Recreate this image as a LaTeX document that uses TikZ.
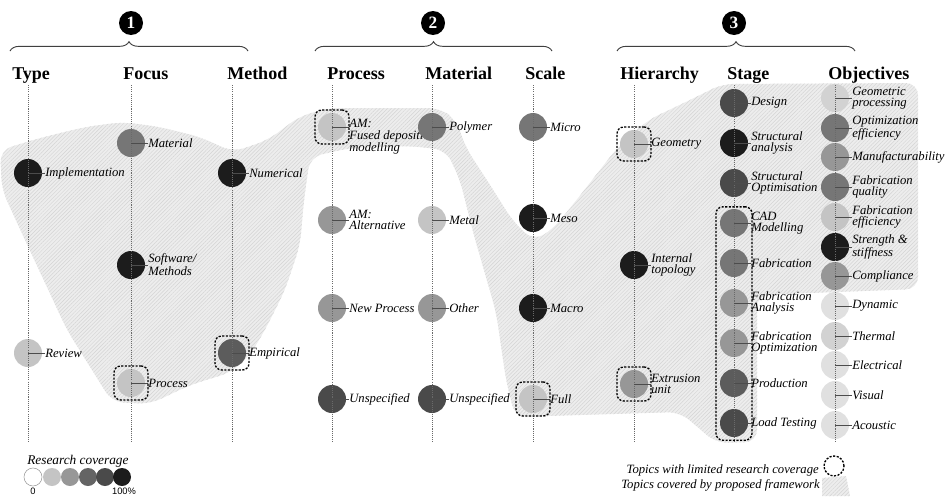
\documentclass[tikz,border=0pt]{standalone}
\usepackage{fontspec}
\setmainfont{Liberation Serif}
\newfontfamily\legsans{Liberation Sans}
\usetikzlibrary{decorations.pathreplacing,patterns.meta}
\definecolor{Lz}{HTML}{E0E0E0}
\definecolor{Lq}{HTML}{D2D2D2}
\definecolor{Lone}{HTML}{C4C4C4}
\definecolor{Ltwo}{HTML}{979797}
\definecolor{Lthree}{HTML}{767676}
\definecolor{Le}{HTML}{5C5C5C}
\definecolor{Lfour}{HTML}{4A4A4A}
\definecolor{Lfive}{HTML}{1C1C1C}
\definecolor{regfill}{HTML}{EDEDED}
\definecolor{reghatch}{HTML}{D4D4D4}
\definecolor{lineg}{HTML}{6A6A6A}
\newcommand\labfont{\fontsize{9.5}{8.4}\selectfont\itshape}
\newcommand\tp[5]{\node[topic,fill=#4] (#1) at (#2,#3) {};\node[lab] (#1-l) at ([xshift=12.75pt]#1.center) {#5};}
\tikzset{
  topic/.style={circle, minimum size=21pt, inner sep=0pt, draw=none},
  lab/.style={anchor=west, font=\labfont, align=left, inner sep=0pt, text=black},
  head/.style={anchor=base west, font=\fontsize{13.5}{16}\selectfont\bfseries, inner sep=0pt},
  limbox/.style={draw=black, rounded corners=5pt, dash pattern=on 1.6pt off 1.1pt, line width=1pt, minimum size=25.5pt, inner sep=0pt},
  colline/.style={draw=lineg, line width=0.5pt, dash pattern=on 0.8pt off 0.8pt},
  tickline/.style={draw=black!70, line width=0.5pt},
  region/.style={fill=regfill, postaction={pattern={Lines[angle=45,distance=2pt,line width=0.35pt]}, pattern color=reghatch}},
  numcirc/.style={circle, fill=black, text=white, minimum size=18pt, inner sep=0pt, font=\fontsize{13}{13}\selectfont\bfseries},
  bracedraw/.style={draw=black!75, line width=0.7pt, decorate, decoration={brace, amplitude=7pt}},
  legc/.style={circle, minimum size=13.5pt, inner sep=0pt}
}
\begin{document}
\begin{tikzpicture}[x=0.75pt,y=-0.75pt]
\useasboundingbox (0,0) rectangle (948,496);
% covered region
\path[region, rounded corners=9pt]
 (0,150) -- (40,138) -- (85,127) -- (123,122) -- (160,127) -- (200,137) -- (233,152)
 -- (268,140) -- (300,116) -- (330,108) -- (440,108) -- (456,120) -- (466,148)
 -- (492,188) -- (512,220) -- (533,241) -- (552,230) -- (575,202) -- (617,148)
 -- (648,120) -- (690,100) -- (722,84) -- (918,83) -- (918,289) -- (757,295)
 -- (757,442) -- (716,443) -- (680,412) -- (515,417) -- (506,380) -- (496,312)
 -- (473,232) -- (460,180) -- (446,150) -- (410,146) -- (350,148) -- (310,157)
 -- (304,200) -- (300,245) -- (285,290) -- (265,330) -- (250,355) -- (232,372)
 -- (190,385) -- (150,404) -- (112,402) -- (67,330) -- (25,240) -- (2,190) -- cycle;
% numbers and braces
\node[numcirc] (n1) at (131,23) {1};
\node[numcirc] (n2) at (433,23) {2};
\node[numcirc] (n3) at (734,23) {3};
\coordinate (b1a) at (10,51); \coordinate (b1b) at (248,51);
\coordinate (b2a) at (315,51); \coordinate (b2b) at (552,51);
\coordinate (b3a) at (617,51); \coordinate (b3b) at (855,51);
\draw[bracedraw] (b1a) -- (b1b);
\draw[bracedraw] (b2a) -- (b2b);
\draw[bracedraw] (b3a) -- (b3b);
% headers
\node[head] (hType) at (12,79) {Type};
\node[head] (hFocus) at (123,79) {Focus};
\node[head] (hMethod) at (227,79) {Method};
\node[head] (hProcess) at (327,79) {Process};
\node[head] (hMaterial) at (425,79) {Material};
\node[head] (hScale) at (525,79) {Scale};
\node[head] (hHier) at (620,79) {Hierarchy};
\node[head] (hStage) at (727,79) {Stage};
\node[head] (hObj) at (828,79) {Objectives};
% topics
\tp{impl}{28}{173}{Lfive}{Implementation}
\tp{review}{28}{353}{Lone}{Review}
\tp{mat}{131}{143}{Lthree}{Material}
\tp{soft}{131}{265}{Lfive}{Software/\\Methods}
\tp{proc}{131}{383}{Lone}{Process}
\tp{num}{232}{173}{Lfive}{Numerical}
\tp{emp}{232}{353}{Le}{Empirical}
\node[topic,fill=Lone] (fdm) at (332,127) {};
\node[lab] (fdm-l) at ([xshift=12.75pt,yshift=-7.5pt]fdm.center) {AM:\\Fused deposition\\modelling};
\tp{amalt}{332}{220}{Ltwo}{AM:\\Alternative}
\tp{newp}{332}{308}{Ltwo}{New Process}
\tp{unspa}{332}{399}{Lfour}{Unspecified}
\tp{poly}{432}{127}{Lthree}{Polymer}
\tp{metal}{432}{220}{Lone}{Metal}
\tp{othr}{432}{308}{Ltwo}{Other}
\tp{unspb}{432}{399}{Lfour}{Unspecified}
\tp{micro}{533}{127}{Lthree}{Micro}
\tp{meso}{533}{218}{Lfive}{Meso}
\tp{macro}{533}{308}{Lfive}{Macro}
\tp{full}{533}{399}{Lone}{Full}
\tp{geom}{634}{144}{Lone}{Geometry}
\tp{itop}{634}{265}{Lfive}{Internal\\topology}
\tp{extr}{634}{384}{Ltwo}{Extrusion\\unit}
\tp{design}{734}{103}{Lfour}{Design}
\tp{sana}{734}{143}{Lfive}{Structural\\analysis}
\tp{sopt}{734}{183}{Lfour}{Structural\\Optimisation}
\tp{cad}{734}{223}{Lthree}{CAD\\Modelling}
\tp{fab}{734}{263}{Lthree}{Fabrication}
\tp{fana}{734}{303}{Ltwo}{Fabrication\\Analysis}
\tp{fopt}{734}{343}{Ltwo}{Fabrication\\Optimization}
\tp{prod}{734}{383}{Le}{Production}
\tp{load}{734}{423}{Lfour}{Load Testing}
\tp{ogeo}{835}{98}{Lq}{Geometric\\processing}
\tp{oopt}{835}{128}{Lthree}{Optimization\\efficiency}
\tp{oman}{835}{157}{Ltwo}{Manufacturability}
\tp{oqual}{835}{187}{Lthree}{Fabrication\\quality}
\tp{oeff}{835}{217}{Lone}{Fabrication\\efficiency}
\tp{ostr}{835}{247}{Lfive}{Strength \&\\stiffness}
\tp{ocomp}{835}{276}{Ltwo}{Compliance}
\tp{odyn}{835}{306}{Lz}{Dynamic}
\tp{otherm}{835}{336}{Lq}{Thermal}
\tp{oele}{835}{365}{Lz}{Electrical}
\tp{ovis}{835}{395}{Lz}{Visual}
\tp{oaco}{835}{425}{Lz}{Acoustic}
% column lines
\foreach \cx [count=\i] in {28,131,232,332,432,533,634,734,835}{
  \coordinate (ct\i) at (\cx,85);
  \coordinate (cb\i) at (\cx,443);
  \draw[colline] (ct\i) -- (cb\i);
}
% ticks
\foreach \n in {impl,review,mat,soft,proc,num,emp,fdm,amalt,newp,unspa,poly,metal,othr,unspb,micro,meso,macro,full,geom,itop,extr,design,sana,sopt,cad,fab,fana,fopt,prod,load,ogeo,oopt,oman,oqual,oeff,ostr,ocomp,odyn,otherm,oele,ovis,oaco}{
  \draw[tickline] (\n.center) -- (\n.center -| \n-l.west);
}
% limited coverage boxes
\node[limbox] (lb1) at (fdm) {};
\node[limbox] (lb2) at (proc) {};
\node[limbox] (lb3) at (emp) {};
\node[limbox] (lb4) at (full) {};
\node[limbox] (lb5) at (geom) {};
\node[limbox] (lb6) at (extr) {};
\node[limbox, minimum width=27pt, minimum height=175pt] (lb7) at (734,323.5) {};
% legend left
\node[anchor=base west, inner sep=0pt, font=\fontsize{10}{12}\selectfont\itshape] (rcov) at (27,464) {Research coverage};
\node[legc, fill=white, draw=black!40, line width=0.4pt] (lg0) at (33,477) {};
\node[legc, fill=Lone] (lg1) at (52,477) {};
\node[legc, fill=Ltwo] (lg2) at (70,477) {};
\node[legc, fill=Lthree!85!black] (lg3) at (88,477) {};
\node[legc, fill=Lfour] (lg4) at (105,477) {};
\node[legc, fill=Lfive] (lg5) at (122,477) {};
\node[anchor=base, inner sep=0pt, font=\legsans\fontsize{7}{8}\selectfont] (lz) at (33,494) {0};
\node[anchor=base, inner sep=0pt, font=\legsans\fontsize{7}{8}\selectfont] (lh) at (124,494) {100\%};
% legend right
\node[anchor=base east, inner sep=0pt, font=\labfont] (leglim) at (819,473) {Topics with limited research coverage};
\node[circle, draw=black, dash pattern=on 1.6pt off 1.1pt, line width=1pt, minimum size=15pt, inner sep=0pt] (legcirc) at (834,466) {};
\node[anchor=base east, inner sep=0pt, font=\labfont] (legcov) at (820,488) {Topics covered by proposed framework};
\path[region] (822,478) -- (846,476) -- (850,496) -- (822,496) -- cycle;
\end{tikzpicture}
\end{document}
